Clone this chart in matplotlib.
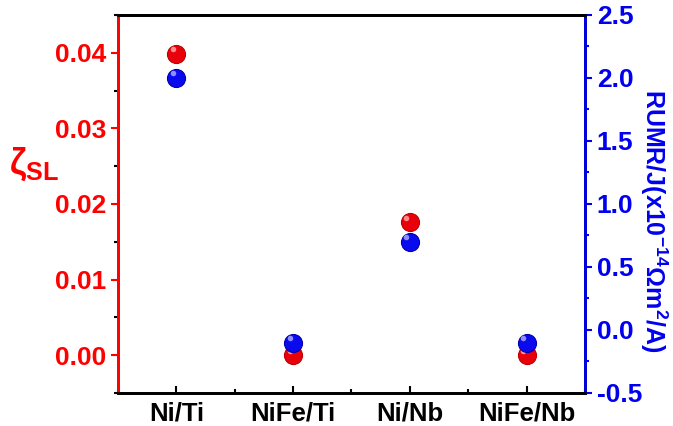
import matplotlib.pyplot as plt
from matplotlib.ticker import MultipleLocator

plt.rcParams['font.family'] = 'Liberation Sans'
plt.rcParams['font.weight'] = 'bold'
plt.rcParams['mathtext.fontset'] = 'custom'
plt.rcParams['mathtext.rm'] = 'Liberation Sans:bold'
plt.rcParams['mathtext.it'] = 'Liberation Sans:bold'
plt.rcParams['mathtext.bf'] = 'Liberation Sans:bold'

# datos
samples = ["Ni/Ti", "NiFe/Ti", "Ni/Nb", "NiFe/Nb"]
zeta_sl = [0.0399, 0.0, 0.0176, 0.0]
rumr_j = [2.0, -0.1, 0.7, -0.1]

x = list(range(len(samples)))

fig = plt.figure(figsize=(6.73, 4.26), dpi=100)
ax = fig.add_axes([0.1753, 0.0775, 0.6939, 0.8873])
ax2 = ax.twinx()

# esferas rojas (eje izquierdo)
ax.plot(x, zeta_sl, 'o', ms=13, color='#e8000b', mec='#c00000', mew=0.8, zorder=3)
ax.plot([v - 0.03 for v in x], [v + 0.0006 for v in zeta_sl], 'o', ms=4,
        color='#ffb0b0', mec='none', alpha=0.8, zorder=4)

# esferas azules (eje derecho)
ax2.plot(x, rumr_j, 'o', ms=13, color='#0a0aee', mec='#0000b0', mew=0.8, zorder=3)
ax2.plot([v - 0.03 for v in x], [v + 0.04 for v in rumr_j], 'o', ms=4,
         color='#b0b0ff', mec='none', alpha=0.8, zorder=4)

ax.set_xlim(-0.5, 3.5)
ax.set_ylim(-0.005, 0.045)
ax2.set_ylim(-0.5, 2.5)

ax.set_xticks(x)
ax.set_xticklabels(samples, fontsize=18.5, fontweight='bold')
ax.xaxis.set_minor_locator(MultipleLocator(0.5))
ax.yaxis.set_major_locator(MultipleLocator(0.01))
ax.yaxis.set_minor_locator(MultipleLocator(0.005))
ax.yaxis.set_major_formatter(plt.FormatStrFormatter('%.2f'))
ax2.yaxis.set_major_locator(MultipleLocator(0.5))
ax2.yaxis.set_minor_locator(MultipleLocator(0.25))
ax2.yaxis.set_major_formatter(plt.FormatStrFormatter('%.1f'))

for a in (ax, ax2):
    for s in a.spines.values():
        s.set_linewidth(2)

ax.spines['left'].set_color('red')
ax2.spines['left'].set_color('red')
ax2.spines['right'].set_color('#0000ee')

ax.tick_params(axis='y', which='both', colors='red', labelsize=19, width=1.5)
ax.tick_params(axis='y', which='major', length=5)
ax.tick_params(axis='y', which='minor', length=3, color='black')
ax.tick_params(axis='x', which='both', direction='in', width=1.5, pad=6)
ax.tick_params(axis='x', which='major', length=5)
ax.tick_params(axis='x', which='minor', length=3)
ax2.tick_params(axis='y', which='both', colors='#0000ee', labelsize=19, width=1.5)
ax2.tick_params(axis='y', which='major', length=5)
ax2.tick_params(axis='y', which='minor', length=3)

for lbl in ax.get_yticklabels():
    lbl.set_fontweight('bold')
for lbl in ax2.get_yticklabels():
    lbl.set_fontweight('bold')

ax.set_ylabel(r'$\zeta_{SL}$', color='red', fontsize=26, rotation=0)
ax.yaxis.set_label_coords(-0.18, 0.555)
ax2.set_ylabel(r'RUMR/J(x10$^{-14}$$\Omega$m$^{2}$/A)', color='#0000ee',
               fontsize=18, fontweight='bold', rotation=270)
ax2.yaxis.set_label_coords(1.18, 0.455)

plt.savefig("out.png", dpi=100)
